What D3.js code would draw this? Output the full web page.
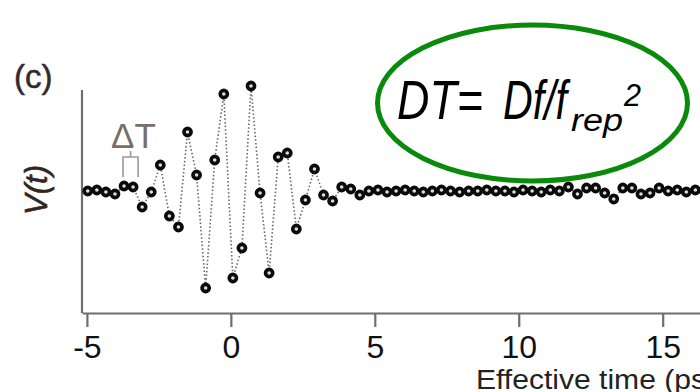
<!DOCTYPE html>
<html>
<head>
<meta charset="utf-8">
<script src="https://cdn.jsdelivr.net/npm/d3@7"></script>
<style>
  html, body { margin: 0; padding: 0; background: #fff; }
  svg { display: block; font-family: "Liberation Sans", Arial, sans-serif; }
</style>
</head>
<body>
<svg id="chart" width="700" height="392"></svg>
<script>
// sampling grid of the trace (ps)
const t0 = -4.97;
const dt = 0.315;

// V(t), arbitrary units
const voltage = [
    0.00, 0.01, -0.01, -0.03, 0.05, 0.04, -0.16, -0.01, 0.26, -0.25,
    -0.36, 0.59, 0.16, -0.97, 0.31, 0.97, -0.87, -0.57, 1.05, -0.02,
    -0.82, 0.34, 0.38, -0.38, -0.09, 0.22, -0.04, -0.10, 0.04, 0.02,
    -0.04, 0.00, 0.01, -0.01, 0.00, 0.01, 0.00, -0.01, 0.00, 0.01,
    0.00, -0.01, 0.00, 0.00, 0.01, 0.00, 0.00, -0.01, 0.01, 0.00,
    -0.01, 0.01, 0.00, 0.04, -0.03, 0.03, 0.03, -0.02, -0.08, 0.03,
    0.03, -0.03, -0.02, 0.03, 0.00, 0.01, -0.01, 0.01, 0.00
];

const xTicks = [-5, 0, 5, 10, 15];

const data = voltage.map((v, i) => ({ t: t0 + i * dt, v }));

const svg = d3.select("#chart");

const x = d3.scaleLinear().domain([-5.17, 16.4]).range([82, 703]);
const y = d3.scaleLinear().domain([-1.22, 1.01]).range([313, 90]);

// axes
svg.append("line")
    .attr("x1", x.range()[0]).attr("x2", x.range()[0])
    .attr("y1", y.range()[1]).attr("y2", y.range()[0])
    .attr("stroke", "#6e6e6e")
    .attr("stroke-width", 2.2);

svg.append("g")
    .attr("transform", `translate(0,${y.range()[0]})`)
    .call(d3.axisBottom(x).tickValues(xTicks).tickFormat(d => String(d)).tickSize(14).tickSizeOuter(0))
    .call(g => g.select(".domain").attr("stroke", "#6e6e6e").attr("stroke-width", 2.2))
    .call(g => g.selectAll(".tick line").attr("stroke", "#6e6e6e").attr("stroke-width", 2.2))
    .call(g => g.selectAll(".tick text")
        .attr("y", 45).attr("dy", 0)
        .attr("fill", "#111")
        .attr("font-size", "32px")
        .attr("font-family", "Liberation Sans, Arial, sans-serif"));

svg.append("text")
    .attr("x", 476)
    .attr("y", 389)
    .attr("font-size", "27px")
    .attr("fill", "#222")
    .attr("textLength", 240)
    .attr("lengthAdjust", "spacingAndGlyphs")
    .text("Effective time (ps)");

svg.append("text")
    .attr("transform", "translate(47,190) rotate(-90)")
    .attr("text-anchor", "middle")
    .attr("font-size", "31px")
    .attr("font-style", "italic")
    .attr("fill", "#33261f")
    .attr("stroke", "#33261f")
    .attr("stroke-width", 0.6)
    .text("V(t)");

svg.append("text")
    .attr("x", 14)
    .attr("y", 88)
    .attr("font-size", "33px")
    .attr("fill", "#332a2a")
    .attr("stroke", "#332a2a")
    .attr("stroke-width", 0.5)
    .text("(c)");

// trace
svg.append("path")
    .datum(data)
    .attr("fill", "none")
    .attr("stroke", "#666")
    .attr("stroke-width", 1.6)
    .attr("stroke-dasharray", "1.5,2.2")
    .attr("d", d3.line().x(d => x(d.t)).y(d => y(d.v)));

svg.append("g")
    .selectAll("circle")
    .data(data)
    .join("circle")
    .attr("cx", d => x(d.t))
    .attr("cy", d => y(d.v))
    .attr("r", 3.6)
    .attr("fill", "#ddd")
    .attr("stroke", "#0a0a0a")
    .attr("stroke-width", 3.6);

// ΔT marker between two neighbouring samples
const xa = x(data[4].t), xb = x(data[5].t) + 5;
const bracket = svg.append("g").attr("stroke", "#9a9a9a").attr("stroke-width", 1.6).attr("fill", "none");
bracket.append("path")
    .attr("d", `M${xa - 1},177 V157 H${xb} V177 M${(xa - 1 + xb) / 2},157 V151`);

svg.append("text")
    .attr("x", 111)
    .attr("y", 148)
    .attr("font-size", "35px")
    .attr("fill", "#7a6e68")
    .text("ΔT");

// annotation
svg.append("ellipse")
    .attr("cx", 532.5)
    .attr("cy", 103)
    .attr("rx", 155)
    .attr("ry", 78)
    .attr("fill", "none")
    .attr("stroke", "#0a8a0a")
    .attr("stroke-width", 5);

const note = svg.append("g")
    .attr("fill", "#000")
    .attr("font-style", "italic")
    .attr("font-family", "Liberation Sans Narrow, Liberation Sans, Arial, sans-serif");

note.append("text").attr("x", 397).attr("y", 119).attr("font-size", "56px")
    .attr("textLength", 86).attr("lengthAdjust", "spacingAndGlyphs").text("DT=");
note.append("text").attr("x", 503).attr("y", 119).attr("font-size", "56px")
    .attr("textLength", 64).attr("lengthAdjust", "spacingAndGlyphs").text("Df/f");
note.append("text").attr("x", 571).attr("y", 131).attr("font-size", "31px")
    .attr("textLength", 52).attr("lengthAdjust", "spacingAndGlyphs").text("rep");
note.append("text").attr("x", 624).attr("y", 106).attr("font-size", "32px")
    .attr("textLength", 17).attr("lengthAdjust", "spacingAndGlyphs").text("2");
</script>
</body>
</html>
